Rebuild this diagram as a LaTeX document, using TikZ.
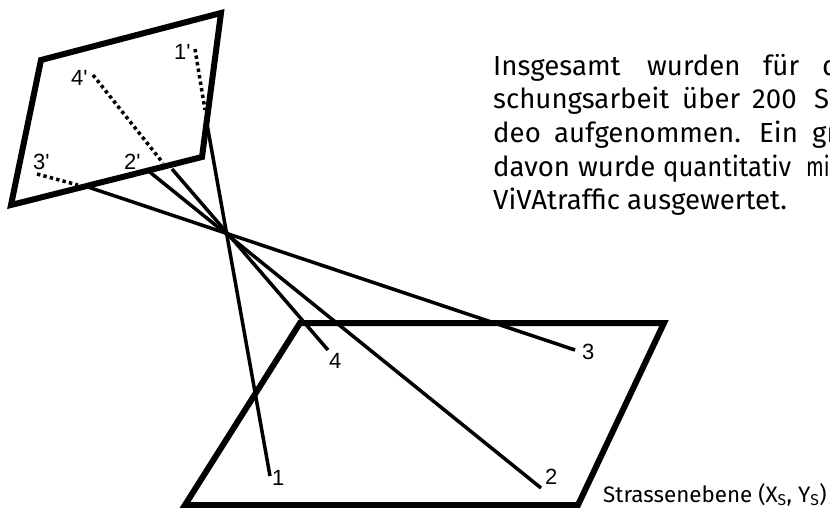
\documentclass[tikz,border=0pt]{standalone}
\usepackage{graphicx}
\usepackage{fontspec}
\setmainfont{Fira Sans}
\newfontfamily\numfont{Liberation Sans}
\tikzset{
  plane/.style={line width=6pt,line join=miter,line cap=butt},
  ray/.style={line width=3.5pt},
  dotray/.style={line width=3.5pt,dash pattern=on 3.4pt off 3.2pt},
  num/.style={font=\numfont\fontsize{22}{22}\selectfont,inner sep=0pt,anchor=base west},
  para/.style={font=\fontsize{27.6}{27.6}\selectfont,inner sep=0pt,anchor=base west},
  captext/.style={font=\fontsize{22.4}{22.4}\selectfont,inner sep=0pt,anchor=base west}
}
\begin{document}
\begin{tikzpicture}[x=1pt,y=-1pt]
\useasboundingbox (0,0) rectangle (830,507);
% image plane
\coordinate (i1) at (41,60);
\coordinate (i2) at (221,13);
\coordinate (i3) at (202,157);
\coordinate (i4) at (11,205);
\draw[plane] (i1) -- (i2) -- (i3) -- (i4) -- cycle;
% road plane
\coordinate (r1) at (300,323);
\coordinate (r2) at (664,323);
\coordinate (r3) at (578,505);
\coordinate (r4) at (185,505);
\draw[plane] (r1) -- (r2) -- (r3) -- (r4) -- cycle;
% rays
\coordinate (p1) at (195,49);
\coordinate (p3) at (37,174);
\coordinate (p4) at (93,75);
\coordinate (e1) at (207,124);
\coordinate (e2) at (146,169);
\coordinate (e3) at (88,187);
\coordinate (e4) at (172,169);
\coordinate (f1) at (205,110);
\coordinate (f3) at (78,185);
\coordinate (f4) at (163,163);
\coordinate (g1) at (270,476);
\coordinate (g2) at (541,488);
\coordinate (g3) at (575,350);
\coordinate (g4) at (328,350);
\draw[ray] (e1) -- (g1);
\draw[ray] (e2) -- (g2);
\draw[ray] (e3) -- (g3);
\draw[ray] (e4) -- (g4);
\draw[dotray] (p1) -- (f1);
\draw[dotray] (p3) -- (f3);
\draw[dotray] (p4) -- (f4);
% labels
\node[num] (l1p) at (174,59) {1'};
\node[num] (l4p) at (71,85) {4'};
\node[num] (l3p) at (33,169) {3'};
\node[num] (l2p) at (124,169) {2'};
\node[num] (l1) at (272,485) {1};
\node[num] (l2) at (545,484) {2};
\node[num] (l3) at (582,359) {3};
\node[num] (l4) at (329,368) {4};
% paragraph, cut by the right edge as in the picture
\begin{scope}
\clip (0,0) rectangle (830,507);
\node[para] (a1) at (493,75) {Insgesamt};
\node[para] (a2) at (647,75) {wurden};
\node[para] (a3) at (763,75) {für};
\node[para] (a4) at (822,75) {d};
\node[para] (b1) at (493,108) {schungsarbeit};
\node[para] (b2) at (682,108) {über};
\node[para] (b3) at (752,108) {200};
\node[para] (b4) at (814,108) {S};
\node[para] (c1) at (493,142) {deo};
\node[para] (c2) at (554,142) {aufgenommen.};
\node[para] (c3) at (759,142) {Ein};
\node[para] (c4) at (812,142) {gr};
\node[para] (d1) at (493,176) {davon};
\node[para] (d2) at (578,176) {wurde};
\node[para] (d3) at (663,176) {\scalebox{0.93}[1]{quantitativ}};
\node[para] (d4) at (806,176) {\scalebox{0.75}[1]{mi}};
\node[para] (e1t) at (493,209) {ViVAtraffic};
\node[para] (e2t) at (627,209) {ausgewertet.};
\end{scope}
\node[captext] (capt) at (603,502) {Strassenebene (X\textsubscript{S}, Y\textsubscript{S})};
\end{tikzpicture}
\end{document}
